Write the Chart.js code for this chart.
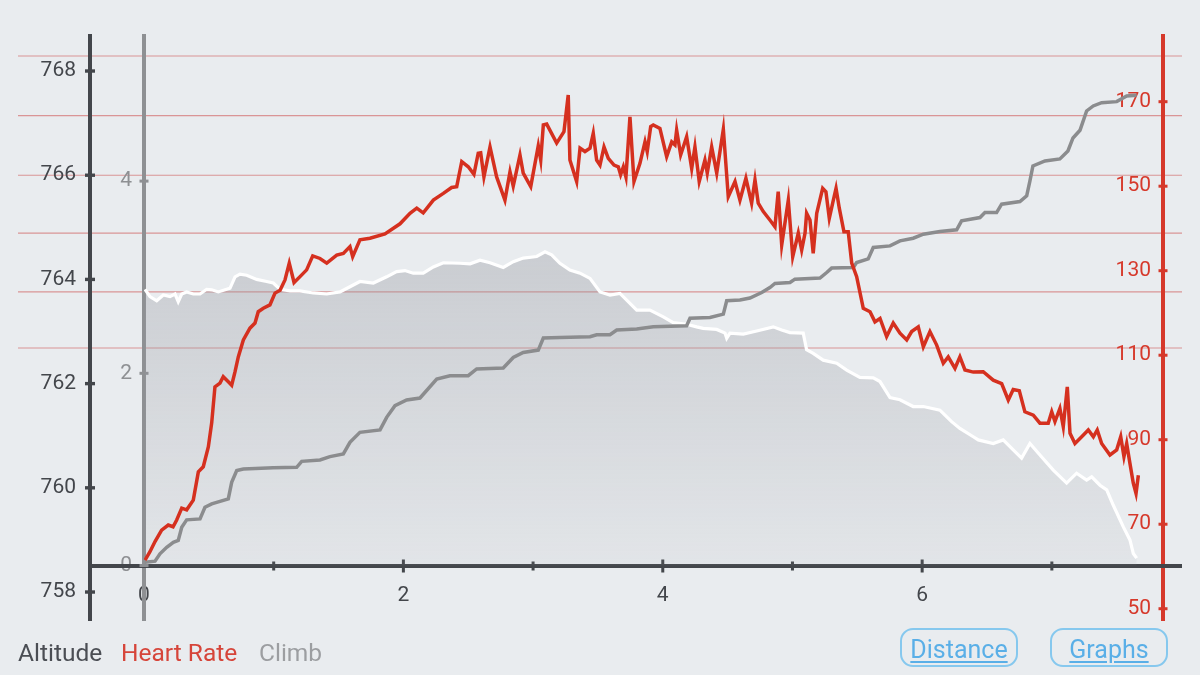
<!DOCTYPE html>
<html>
<head>
<meta charset="utf-8">
<script src="https://cdn.jsdelivr.net/npm/chart.js@4.4.1/dist/chart.umd.min.js"></script>
<style>
html,body{margin:0;padding:0;background:#e9ecef;width:1200px;height:675px;overflow:hidden;font-family:Roboto,"Noto Sans",sans-serif;}
#wrap{position:relative;width:1200px;height:675px;}
#c{position:absolute;left:0;top:0;}
.leg{position:absolute;top:638px;font-size:24.5px;line-height:30px;white-space:nowrap;}
.btn{position:absolute;top:628px;height:39px;width:118px;border:2px solid #86c8ee;border-radius:13px;box-sizing:border-box;text-align:center;font-size:25px;line-height:30px;padding-top:5px;color:#5aafe7;text-decoration:underline;text-underline-offset:3px;}
</style>
</head>
<body>
<div id="wrap">
<canvas id="c" width="1200" height="675"></canvas>
<div class="leg" style="left:18px;color:#4b4e54;">Altitude</div>
<div class="leg" style="left:121px;color:#d6453a;">Heart Rate</div>
<div class="leg" style="left:259px;color:#9c9ea1;">Climb</div>
<div class="btn" style="left:900px;">Distance</div>
<div class="btn" style="left:1050px;">Graphs</div>
</div>
<script>
// ---- data (distance in km) ----
const hrKm = [0.008,0.046,0.085,0.136,0.187,0.224,0.252,0.291,0.329,0.380,0.419,0.457,0.496,0.522,0.547,0.586,0.611,0.650,0.676,0.702,0.727,0.766,0.817,0.856,0.881,0.920,0.971,1.010,1.049,1.087,1.120,1.157,1.203,1.254,1.301,1.357,1.409,1.486,1.537,1.588,1.609,1.665,1.742,1.858,1.974,2.051,2.103,2.153,2.231,2.308,2.372,2.411,2.450,2.500,2.544,2.577,2.596,2.621,2.668,2.719,2.783,2.822,2.847,2.899,2.924,2.982,3.040,3.059,3.079,3.105,3.182,3.238,3.271,3.284,3.336,3.362,3.400,3.439,3.464,3.490,3.516,3.547,3.580,3.624,3.657,3.675,3.696,3.716,3.747,3.778,3.824,3.863,3.880,3.907,3.927,3.978,4.030,4.069,4.094,4.107,4.138,4.184,4.223,4.248,4.281,4.325,4.343,4.377,4.416,4.467,4.505,4.557,4.595,4.641,4.685,4.711,4.736,4.775,4.826,4.865,4.890,4.917,4.968,5.002,5.045,5.071,5.097,5.109,5.135,5.160,5.187,5.233,5.258,5.284,5.310,5.336,5.361,5.397,5.430,5.457,5.495,5.546,5.598,5.636,5.675,5.726,5.777,5.829,5.881,5.919,5.970,6.009,6.060,6.112,6.163,6.201,6.253,6.291,6.330,6.394,6.471,6.548,6.613,6.664,6.702,6.749,6.792,6.857,6.908,6.972,6.999,7.024,7.062,7.088,7.119,7.140,7.178,7.230,7.281,7.320,7.350,7.384,7.448,7.500,7.531,7.556,7.577,7.602,7.628,7.649,7.667];
const hrBpm = [61.5,63.5,65.9,68.6,69.8,69.4,71.0,73.8,73.4,75.7,82.4,83.6,88.3,94.0,102.5,103.4,104.9,103.7,102.9,106.1,109.6,113.6,116.4,117.6,120.3,121.1,121.9,124.7,125.4,127.8,131.8,127.2,128.6,130.2,133.5,132.9,131.8,133.7,134.1,135.7,133.3,137.3,137.7,138.7,141.1,143.6,144.8,143.7,146.7,148.3,149.7,149.9,155.8,154.6,152.8,157.8,157.9,152.2,159.3,152.2,146.7,153.4,150.0,157.4,153.1,149.9,159.6,156.2,164.5,164.7,160.2,162.9,171.6,156.2,151.1,159.0,158.2,159.0,162.5,156.2,155.0,159.3,156.6,155.0,154.6,152.7,154.6,152.2,166.4,151.1,155.4,160.5,158.2,164.1,164.5,163.7,157.0,160.5,159.8,163.3,157.4,161.7,154.2,159.3,151.1,156.2,153.1,159.3,153.1,163.5,147.5,151.1,146.7,151.9,146.0,151.5,146.0,144.0,142.0,140.4,148.7,136.1,146.7,133.3,138.9,134.9,138.9,143.6,142.0,134.1,143.6,149.5,148.7,142.4,146.0,149.5,144.8,139.2,139.2,131.8,128.6,121.1,120.3,117.9,118.7,114.4,117.6,115.2,113.6,115.6,116.7,112.0,115.6,112.4,108.1,109.6,106.9,109.6,106.5,106.0,106.1,104.1,103.3,99.4,101.9,101.6,96.6,95.8,93.9,93.9,96.6,94.3,97.4,93.1,102.5,91.5,89.1,90.7,92.3,90.7,92.3,89.1,86.4,87.6,90.7,86.0,89.1,84.4,79.7,77.3,81.6];

const altKm = [0.008,0.046,0.098,0.149,0.200,0.239,0.264,0.291,0.329,0.380,0.432,0.483,0.522,0.573,0.625,0.663,0.702,0.740,0.792,0.869,0.946,0.997,1.049,1.126,1.203,1.305,1.409,1.511,1.588,1.665,1.768,1.871,1.948,2.012,2.076,2.153,2.231,2.308,2.436,2.514,2.591,2.668,2.770,2.847,2.924,3.028,3.092,3.143,3.207,3.284,3.362,3.439,3.516,3.593,3.670,3.747,3.799,3.901,4.004,4.081,4.184,4.261,4.312,4.416,4.480,4.493,4.518,4.621,4.724,4.852,4.917,4.981,5.083,5.109,5.160,5.237,5.341,5.418,5.520,5.623,5.675,5.752,5.829,5.931,6.009,6.137,6.227,6.291,6.394,6.433,6.548,6.625,6.702,6.767,6.831,6.908,7.011,7.114,7.191,7.268,7.307,7.371,7.423,7.473,7.551,7.602,7.628,7.654];
const altM = [763.81,763.67,763.59,763.70,763.67,763.72,763.57,763.72,763.76,763.72,763.72,763.81,763.80,763.76,763.80,763.83,764.05,764.10,764.08,764.00,763.96,763.93,763.81,763.78,763.78,763.74,763.72,763.76,763.86,763.96,763.93,764.05,764.15,764.17,764.12,764.12,764.24,764.32,764.31,764.30,764.37,764.32,764.23,764.34,764.41,764.44,764.53,764.47,764.31,764.18,764.12,764.02,763.76,763.70,763.73,763.54,763.41,763.41,763.28,763.17,763.14,763.09,763.06,763.04,762.97,762.87,762.97,762.95,763.01,763.09,763.03,762.98,762.97,762.65,762.58,762.45,762.39,762.26,762.12,762.11,762.04,761.73,761.69,761.56,761.56,761.49,761.27,761.14,760.98,760.92,760.85,760.92,760.73,760.57,760.85,760.63,760.34,760.09,760.28,760.15,760.21,760.05,759.96,759.67,759.25,759.00,758.74,758.65];

const climbKm = [0.008,0.085,0.123,0.175,0.226,0.264,0.291,0.329,0.432,0.470,0.522,0.586,0.650,0.676,0.715,0.766,0.997,1.177,1.216,1.357,1.434,1.537,1.588,1.665,1.820,1.871,1.935,2.025,2.128,2.257,2.359,2.500,2.565,2.770,2.847,2.924,3.040,3.079,3.207,3.439,3.490,3.593,3.645,3.799,3.927,4.184,4.210,4.364,4.467,4.493,4.595,4.672,4.763,4.826,4.865,4.981,5.019,5.212,5.264,5.302,5.469,5.495,5.584,5.623,5.752,5.829,5.931,6.009,6.137,6.266,6.304,6.446,6.484,6.574,6.613,6.754,6.806,6.831,6.854,6.947,7.062,7.124,7.163,7.217,7.268,7.319,7.384,7.500,7.577,7.654];
const climbVal = [0.034,0.045,0.122,0.190,0.242,0.260,0.398,0.475,0.485,0.606,0.641,0.668,0.693,0.866,0.988,1.005,1.016,1.022,1.084,1.099,1.133,1.161,1.282,1.386,1.411,1.542,1.663,1.722,1.743,1.941,1.975,1.975,2.045,2.055,2.165,2.217,2.242,2.367,2.373,2.380,2.401,2.401,2.450,2.461,2.484,2.495,2.573,2.581,2.616,2.755,2.762,2.783,2.841,2.893,2.935,2.945,2.980,2.991,3.049,3.095,3.101,3.153,3.191,3.309,3.326,3.378,3.406,3.448,3.475,3.493,3.586,3.621,3.673,3.673,3.760,3.787,3.846,4.002,4.158,4.210,4.231,4.314,4.449,4.529,4.730,4.782,4.816,4.827,4.886,4.893];

// ---- ticks / reference lines ----
const xTickValues = [0,1,2,3,4,5,6,7];
const xTickLabels = ['0','','2','','4','','6',''];
const altTicks = [758,760,762,764,766,768];
const climbTicks = [0,2,4];
const hrTicks = [50,70,90,110,130,150,170];
const hrZoneLines = [111.7,125.0,138.9,152.6,166.7,180.8];

// ---- axis ranges ----
const xMin = 0, xMax = 7.857;
const altMin = 757.463, altMax = 768.672;
const climbMin = -0.567, climbMax = 5.510;
const hrMin = 47.33, hrMax = 185.55;

const toPts = (xs, ys) => xs.slice(0, Math.min(xs.length, ys.length)).map((x, i) => ({x: x, y: ys[i]}));
const altAtAxis = altMin + (altMax - altMin) * (0 - climbMin) / (climbMax - climbMin);

const FONT = {family: 'Roboto', size: 21};
const DARK = '#43464b', GRAYAX = '#8e9093', RED = '#d6392b';
const AXW = 4;
const alignPx = (p, w) => Math.round(p - w / 2) + w / 2;

const decor = {
  id: 'decor',
  beforeDraw(chart) {
    const ctx = chart.ctx, hr = chart.scales.hr;
    ctx.save();
    ctx.strokeStyle = 'rgba(212,120,120,0.75)';
    ctx.lineWidth = 1.1;
    hrZoneLines.forEach(v => {
      const y = hr.getPixelForValue(v);
      ctx.beginPath(); ctx.moveTo(18, y); ctx.lineTo(1182, y); ctx.stroke();
    });
    ctx.restore();
  },
  beforeDatasetsDraw(chart) {
    const ctx = chart.ctx, a = chart.chartArea, s = chart.scales;
    ctx.save();
    const y0 = alignPx(s.climb.getPixelForValue(0), AXW);
    const ax = s.y.right;
    ctx.fillStyle = DARK;
    // x axis line continues left to the altitude axis and right past the HR axis
    ctx.fillRect(ax, y0 - AXW / 2, a.left - ax + 2, AXW);
    ctx.fillRect(a.right - 2, y0 - AXW / 2, 1182 - a.right + 2, AXW);
    altTicks.forEach(v => { const y = s.y.getPixelForValue(v); ctx.fillRect(ax - 5, y - 1.7, 10, 3.4); });
    xTickValues.forEach((v, i) => {
      if (v === 0) return;
      const x = s.x.getPixelForValue(v);
      const h = xTickLabels[i] ? 6.5 : 4.5;
      ctx.fillRect(x - 1.5, y0 - h, 3, h * 2);
    });
    ctx.fillStyle = GRAYAX;
    climbTicks.forEach(v => { const y = s.climb.getPixelForValue(v); ctx.fillRect(a.left - 4.5, y - 1.5, 9, 3); });
    ctx.fillStyle = RED;
    hrTicks.forEach(v => { const y = s.hr.getPixelForValue(v); ctx.fillRect(a.right - 4.5, y - 1.5, 9, 3); });
    ctx.restore();
  }
};

const setTicks = arr => (scale) => { scale.ticks = arr.map(v => ({value: v})); };

new Chart(document.getElementById('c'), {
  type: 'line',
  data: {
    datasets: [
      {label: 'Heart Rate', data: toPts(hrKm, hrBpm), xAxisID: 'x', yAxisID: 'hr', borderColor: '#d5301f', borderWidth: 3.5, pointRadius: 0, fill: false, tension: 0, order: 0},
      {label: 'Climb', data: toPts(climbKm, climbVal), xAxisID: 'x', yAxisID: 'climb', borderColor: '#8b8c8e', borderWidth: 3.5, pointRadius: 0, fill: false, tension: 0, order: 1},
      {label: 'Altitude', data: toPts(altKm, altM), xAxisID: 'x', yAxisID: 'y', borderColor: '#ffffff', borderWidth: 3.2, pointRadius: 0, tension: 0, order: 2,
        fill: {value: altAtAxis},
        backgroundColor: (c) => {
          const ch = c.chart;
          if (!ch.chartArea || !ch.scales.y || !ch.scales.climb) return 'rgba(150,152,160,0.25)';
          const top = ch.scales.y.getPixelForValue(Math.max(...altM));
          const bot = ch.scales.climb.getPixelForValue(0);
          const g = ch.ctx.createLinearGradient(0, top, 0, bot);
          g.addColorStop(0, 'rgba(150,152,160,0.37)');
          g.addColorStop(1, 'rgba(150,152,160,0.08)');
          return g;
        }
      }
    ]
  },
  options: {
    responsive: false,
    animation: false,
    devicePixelRatio: 1,
    events: [],
    layout: {padding: {left: 0, right: 0, top: 36, bottom: 55}},
    plugins: {legend: {display: false}, tooltip: {enabled: false}},
    scales: {
      x: {
        type: 'linear', axis: 'x', min: xMin, max: xMax, position: {climb: 0},
        afterBuildTicks: setTicks(xTickValues),
        ticks: {callback: (v, i) => xTickLabels[i], color: DARK, font: FONT, padding: 18, maxRotation: 0, autoSkip: false},
        grid: {display: true, drawOnChartArea: false, drawTicks: false},
        border: {display: true, color: DARK, width: AXW}
      },
      y: {
        type: 'linear', axis: 'y', position: 'left', weight: 1, min: altMin, max: altMax,
        afterBuildTicks: setTicks(altTicks),
        afterFit: (s) => { s.width = 90; },
        ticks: {color: DARK, font: FONT, padding: 14},
        grid: {display: true, drawOnChartArea: false, drawTicks: false},
        border: {display: true, color: DARK, width: AXW}
      },
      climb: {
        type: 'linear', axis: 'y', position: 'left', weight: 0, min: climbMin, max: climbMax,
        afterBuildTicks: setTicks(climbTicks),
        afterFit: (s) => { s.width = 54; },
        ticks: {color: GRAYAX, font: FONT, padding: 12},
        grid: {display: true, drawOnChartArea: false, drawTicks: false},
        border: {display: true, color: GRAYAX, width: AXW}
      },
      hr: {
        type: 'linear', axis: 'y', position: 'right', min: hrMin, max: hrMax,
        afterBuildTicks: setTicks(hrTicks),
        afterFit: (s) => { s.width = 37; },
        ticks: {color: RED, font: FONT, mirror: true, padding: -12},
        grid: {display: true, drawOnChartArea: false, drawTicks: false},
        border: {display: true, color: RED, width: AXW}
      }
    }
  },
  plugins: [decor]
});
</script>
</body>
</html>
